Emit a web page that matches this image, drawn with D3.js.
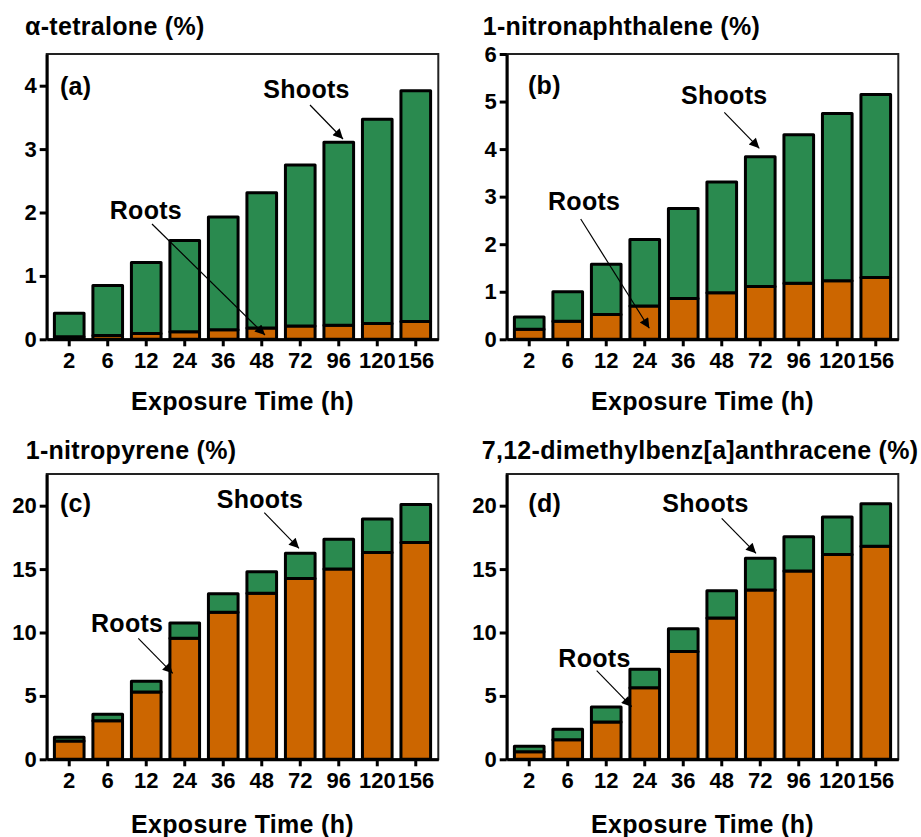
<!DOCTYPE html>
<html>
<head>
<meta charset="utf-8">
<script src="https://cdn.jsdelivr.net/npm/d3@7"></script>
<style>
    body { margin: 0; background: #fff; }
    text { font-family: "Liberation Sans", Arial, sans-serif; font-weight: bold; fill: #000; }
</style>
</head>
<body>
<svg id="chart" width="921" height="837"></svg>
<script>
// exposure times, shared by all four panels
const hours = ["2", "6", "12", "24", "36", "48", "72", "96", "120", "156"];

// (a) alpha-tetralone
const tetraloneRoots = [0.04, 0.06, 0.09, 0.12, 0.15, 0.18, 0.21, 0.22, 0.25, 0.28];
const tetraloneShoots = [0.37, 0.79, 1.12, 1.44, 1.78, 2.13, 2.54, 2.89, 3.22, 3.64];
const tetraloneTicks = [0, 1, 2, 3, 4];

// (b) 1-nitronaphthalene
const nitronaphRoots = [0.21, 0.38, 0.52, 0.70, 0.86, 0.98, 1.11, 1.18, 1.23, 1.30];
const nitronaphShoots = [0.26, 0.62, 1.06, 1.40, 1.89, 2.33, 2.73, 3.12, 3.52, 3.85];
const nitronaphTicks = [0, 1, 2, 3, 4, 5, 6];

// (c) 1-nitropyrene
const nitropyreneRoots = [1.45, 3.05, 5.30, 9.55, 11.60, 13.10, 14.25, 15.00, 16.30, 17.10];
const nitropyreneShoots = [0.28, 0.50, 0.85, 1.20, 1.45, 1.70, 2.00, 2.35, 2.65, 3.00];
const nitropyreneTicks = [0, 5, 10, 15, 20];

// (d) 7,12-dimethylbenz[a]anthracene
const dmbaRoots = [0.60, 1.55, 2.95, 5.65, 8.50, 11.15, 13.35, 14.85, 16.15, 16.80];
const dmbaShoots = [0.42, 0.82, 1.18, 1.45, 1.80, 2.15, 2.50, 2.70, 2.95, 3.35];
const dmbaTicks = [0, 5, 10, 15, 20];

const colors = { roots: "#cc6600", shoots: "#2a8a4f" };

const plotW = 391.6;
const plotH = 285.3;
const svg = d3.select("#chart");

// marker used by the Roots / Shoots arrows
svg.append("defs").append("marker")
    .attr("id", "head")
    .attr("viewBox", "0 0 10 10")
    .attr("refX", 10).attr("refY", 5)
    .attr("markerUnits", "userSpaceOnUse")
    .attr("markerWidth", 14).attr("markerHeight", 10)
    .attr("orient", "auto")
    .append("path").attr("d", "M0,0L10,5L0,10Z").attr("fill", "#000");

const panels = [
    {
        title: "α-tetralone (%)", tag: "(a)", left: 46.7, top: 54, titleX: -21.7, titleY: -19, labelY: 355.5,
        roots: tetraloneRoots, shoots: tetraloneShoots, yMax: 4.5, ticks: tetraloneTicks,
        tagPos: [13.3, 32],
        shootNote: { text: [216.6, 35.3], from: [263.3, 51], to: [296.3, 85] },
        rootNote: { text: [63, 156], from: [105.3, 170], to: [218.3, 281] }
    },
    {
        title: "1-nitronaphthalene (%)", tag: "(b)", left: 506.7, top: 54, titleX: -24, titleY: -19, labelY: 355.5,
        roots: nitronaphRoots, shoots: nitronaphShoots, yMax: 6, ticks: nitronaphTicks,
        tagPos: [21.3, 31],
        shootNote: { text: [174.3, 41], from: [217.6, 58.3], to: [252.6, 94.3] },
        rootNote: { text: [41.3, 147.7], from: [74, 165], to: [142.6, 274.3] }
    },
    {
        title: "1-nitropyrene (%)", tag: "(c)", left: 46.7, top: 474, titleX: -21, titleY: -14.7, labelY: 359,
        roots: nitropyreneRoots, shoots: nitropyreneShoots, yMax: 22.5, ticks: nitropyreneTicks,
        tagPos: [13.3, 29],
        shootNote: { text: [170, 25], from: [217.6, 38.7], to: [252.3, 74.3] },
        rootNote: { text: [44.3, 149.3], from: [91.6, 164.3], to: [126, 199.3] }
    },
    {
        title: "7,12-dimethylbenz[a]anthracene (%)", tag: "(d)", left: 506.7, top: 474, titleX: -25, titleY: -14.7, labelY: 359,
        roots: dmbaRoots, shoots: dmbaShoots, yMax: 22.5, ticks: dmbaTicks,
        tagPos: [21.6, 29.3],
        shootNote: { text: [155.6, 29.3], from: [215, 44.3], to: [249.3, 79.3] },
        rootNote: { text: [51.6, 184.3], from: [90, 196.7], to: [125, 232.7] }
    }
];

panels.forEach(drawPanel);

function drawPanel(p) {
    const g = svg.append("g").attr("transform", `translate(${p.left},${p.top})`);

    const x = d3.scaleBand().domain(hours).range([0, plotW]).paddingInner(0.23).paddingOuter(0.2);
    const y = d3.scaleLinear().domain([0, p.yMax]).range([plotH, 0]);

    const rows = hours.map((h, i) => ({ hour: h, roots: p.roots[i], shoots: p.shoots[i] }));
    const stacked = d3.stack().keys(["roots", "shoots"])(rows);

    // thin frame (top and right sides)
    g.append("rect")
        .attr("width", plotW).attr("height", plotH)
        .attr("fill", "none").attr("stroke", "#222").attr("stroke-width", 2);

    g.append("g").selectAll("g")
        .data(stacked)
        .join("g")
        .attr("fill", (d) => colors[d.key])
        .selectAll("rect")
        .data((d) => d)
        .join("rect")
        .attr("x", (d) => x(d.data.hour))
        .attr("width", x.bandwidth())
        .attr("y", (d) => y(d[1]))
        .attr("height", (d) => y(d[0]) - y(d[1]))
        .attr("stroke", "#000")
        .attr("stroke-width", 3)
        .attr("stroke-linejoin", "round");

    const yAxis = g.append("g")
        .call(d3.axisLeft(y).tickValues(p.ticks).tickFormat(d3.format("d"))
            .tickSize(7).tickPadding(3).tickSizeOuter(0));
    const xAxis = g.append("g")
        .attr("transform", `translate(0,${plotH})`)
        .call(d3.axisBottom(x).tickSize(7).tickPadding(6).tickSizeOuter(0));

    [yAxis, xAxis].forEach((ax) => {
        ax.select(".domain").attr("stroke", "#000").attr("stroke-width", 3);
        ax.selectAll(".tick line").attr("stroke", "#000").attr("stroke-width", 3);
        ax.selectAll(".tick text")
            .attr("font-size", 22)
            .attr("font-family", "Liberation Sans, Arial, sans-serif")
            .attr("font-weight", "bold")
            .attr("fill", "#000");
    });

    g.append("text")
        .attr("x", p.titleX).attr("y", p.titleY)
        .attr("font-size", 25).attr("letter-spacing", 0.3)
        .text(p.title);

    g.append("text")
        .attr("x", plotW / 2).attr("y", p.labelY)
        .attr("text-anchor", "middle")
        .attr("font-size", 25).attr("letter-spacing", 0.3)
        .text("Exposure Time (h)");

    g.append("text")
        .attr("x", p.tagPos[0]).attr("y", p.tagPos[1]).attr("dy", "0.35em")
        .attr("font-size", 25).attr("letter-spacing", 0.3)
        .text(p.tag);

    [["Shoots", p.shootNote], ["Roots", p.rootNote]].forEach(([label, n]) => {
        g.append("text")
            .attr("x", n.text[0]).attr("y", n.text[1]).attr("dy", "0.35em")
            .attr("font-size", 25).attr("letter-spacing", 0.3)
            .text(label);
        g.append("line")
            .attr("x1", n.from[0]).attr("y1", n.from[1])
            .attr("x2", n.to[0]).attr("y2", n.to[1])
            .attr("stroke", "#000").attr("stroke-width", 1.2)
            .attr("marker-end", "url(#head)");
    });
}
</script>
</body>
</html>
